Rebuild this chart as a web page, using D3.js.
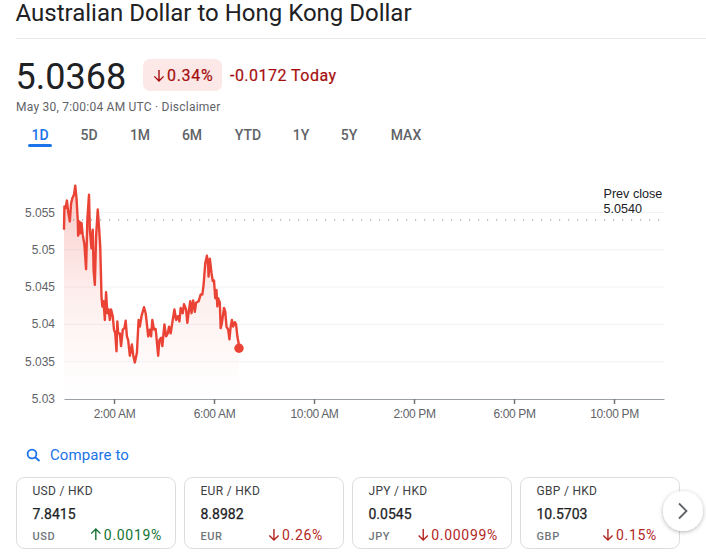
<!DOCTYPE html>
<html><head><meta charset="utf-8">
<script src="https://cdn.jsdelivr.net/npm/d3@7/dist/d3.min.js"></script>
<style>html,body{margin:0;padding:0;background:#fff;overflow:hidden}svg{display:block}</style>
</head><body><svg id="c" width="706" height="559"></svg>
<script>
const minutes=[0,1,4,7,10,14,17,20,24,27,30,33,34,37,39,42,45,49,53,56,60,62,66,69,71,74,77,81,84,87,90,92,95,98,101,104,107,110,113,117,120,123,126,128,130,134,137,141,145,148,151,154,158,163,166,170,175,179,182,186,192,196,199,202,206,209,212,216,220,226,229,233,236,241,245,249,252,256,261,265,269,273,277,280,285,288,293,296,299,303,306,310,314,317,323,328,332,335,339,343,346,347,350,354,357,360,363,366,368,370,374,376,379,384,387,390,394,397,400,403,406,410,413,416,419,420];
const rates=[5.0527,5.0558,5.0556,5.0566,5.0551,5.0538,5.0562,5.0569,5.0574,5.0586,5.0569,5.0540,5.0519,5.0538,5.0522,5.0536,5.0520,5.0507,5.0474,5.0540,5.0574,5.0527,5.0502,5.0527,5.0473,5.0453,5.0518,5.0554,5.0531,5.0504,5.0437,5.0424,5.0431,5.0406,5.0443,5.0415,5.0420,5.0406,5.0420,5.0411,5.0393,5.0388,5.0364,5.0404,5.0388,5.0388,5.0371,5.0393,5.0395,5.0405,5.0384,5.0379,5.0358,5.0373,5.0359,5.0349,5.0362,5.0406,5.0397,5.0411,5.0423,5.0415,5.0400,5.0384,5.0393,5.0384,5.0406,5.0393,5.0394,5.0358,5.0379,5.0382,5.0371,5.0400,5.0384,5.0388,5.0397,5.0388,5.0406,5.0420,5.0406,5.0411,5.0404,5.0422,5.0415,5.0427,5.0420,5.0402,5.0415,5.0431,5.0415,5.0432,5.0417,5.0429,5.0431,5.0440,5.0440,5.0453,5.0482,5.0492,5.0478,5.0464,5.0488,5.0469,5.0458,5.0459,5.0435,5.0446,5.0424,5.0435,5.0429,5.0395,5.0402,5.0422,5.0417,5.0397,5.0393,5.0380,5.0397,5.0406,5.0397,5.0403,5.0400,5.0384,5.0375,5.0368];
const yTicks=[5.03,5.035,5.04,5.045,5.05,5.055];
const yLabels=["5.03","5.035","5.04","5.045","5.05","5.055"];
const xTicks=[120,360,600,840,1080,1320];
const xLabels=["2:00 AM","6:00 AM","10:00 AM","2:00 PM","6:00 PM","10:00 PM"];
const prevClose=5.054;
const ranges=["1D","5D","1M","6M","YTD","1Y","5Y","MAX"];
const pairNames=["USD / HKD","EUR / HKD","JPY / HKD","GBP / HKD"];
const pairRates=["7.8415","8.8982","0.0545","10.5703"];
const pairCodes=["USD","EUR","JPY","GBP"];
const pairChanges=["0.0019%","0.26%","0.00099%","0.15%"];
const pairUp=[true,false,false,false];

const svg=d3.select("#c");
const UI="Roboto, sans-serif", AR="'Liberation Sans', Arial, sans-serif";
const DARK="#202124",GREY="#5f6368",RED="#a50e0e",GREEN="#137333",BLUE="#1a73e8",LINE="#ea4335";
function T(x,y,s,size,fill,o={}){return svg.append("text").attr("x",x).attr("y",y).text(s)
  .attr("font-family",o.font||UI).attr("font-size",size).attr("fill",fill)
  .attr("font-weight",o.weight||400).attr("text-anchor",o.anchor||"start")
  .attr("letter-spacing",o.ls||null);}
function arrow(x,y,up,color,h=11){
  const s=up?-1:1,g=svg.append("path");
  g.attr("d",`M${x},${y-s*h/2}L${x},${y+s*h/2}M${x-h*0.42},${y+s*h*0.08}L${x},${y+s*h/2}L${x+h*0.42},${y+s*h*0.08}`)
   .attr("fill","none").attr("stroke",color).attr("stroke-width",1.4);
}
const defs=svg.append("defs");
const grad=defs.append("linearGradient").attr("id","g").attr("x1",0).attr("x2",0).attr("y1",0).attr("y2",1);
[[0,.27],[.5,.09],[.85,.02],[1,0]].forEach(s=>grad.append("stop").attr("offset",s[0]).attr("stop-color","#ea4335").attr("stop-opacity",s[1]));
const sh=defs.append("filter").attr("id","s").attr("x","-40%").attr("y","-40%").attr("width","180%").attr("height","180%");
sh.append("feDropShadow").attr("dx",0).attr("dy",1).attr("stdDeviation",2).attr("flood-color","#000").attr("flood-opacity",.3);

// header
T(15.5,21,"Australian Dollar to Hong Kong Dollar",24,DARK);
svg.append("line").attr("x1",16).attr("x2",706).attr("y1",38.5).attr("y2",38.5).attr("stroke","#e8eaed");
T(15.5,89,"5.0368",36,DARK);
svg.append("rect").attr("x",143).attr("y",59).attr("width",79).attr("height",32).attr("rx",7).attr("fill","#fce8e6");
arrow(159,75.5,false,RED,11);
T(167,81,"0.34%",16,RED,{ls:".7px"}).attr("stroke",RED).attr("stroke-width",.2);
T(230,81,"-0.0172 Today",16,RED,{ls:".48px"}).attr("stroke",RED).attr("stroke-width",.2);
T(16,111,"May 30, 7:00:04 AM UTC · Disclaimer",12,GREY,{ls:".23px"});
const rx=[40,89,140,192,248,301,349,406];
ranges.forEach((r,i)=>T(rx[i],140,r,14,i==0?BLUE:GREY,{anchor:"middle",weight:500}));
svg.append("rect").attr("x",28).attr("y",144).attr("width",24).attr("height",3).attr("rx",1.5).attr("fill",BLUE);

// chart
const x=d3.scaleLinear().domain([0,1440]).range([64,664]);
const y=d3.scaleLinear().domain([5.03,5.055]).range([399,212.5]);
const pts=minutes.map((m,i)=>[m,rates[i]]);
svg.append("g").selectAll("line").data(yTicks.slice(1)).join("line")
  .attr("x1",64).attr("x2",664).attr("y1",d=>y(d)).attr("y2",d=>y(d)).attr("stroke","#f1f3f4");
svg.append("path").datum(pts).attr("fill","url(#g)")
  .attr("d",d3.area().x(d=>x(d[0])).y0(y(5.03)).y1(d=>y(d[1])));
svg.append("line").attr("x1",64).attr("x2",664).attr("y1",y(prevClose)).attr("y2",y(prevClose))
  .attr("stroke","#9aa0a6").attr("stroke-width",1.2).attr("stroke-dasharray","1.2 7.8");
svg.append("path").datum(pts).attr("fill","none").attr("stroke",LINE).attr("stroke-width",2.4).attr("stroke-linejoin","round")
  .attr("d",d3.line().x(d=>x(d[0])).y(d=>y(d[1])));
const last=pts[pts.length-1];
svg.append("circle").attr("cx",x(last[0])).attr("cy",y(last[1])).attr("r",4.7).attr("fill",LINE);
yTicks.forEach((v,i)=>T(55,y(v)+4,yLabels[i],12,GREY,{font:AR,anchor:"end"}));
const ax=svg.append("g").attr("transform",`translate(0,${y(5.03)})`)
  .call(d3.axisBottom(x).tickValues(xTicks).tickFormat((d,i)=>xLabels[i]).tickSize(5).tickSizeOuter(0));
ax.select(".domain").attr("stroke","#9aa0a6").attr("stroke-width",1);
ax.selectAll(".tick line").attr("stroke","#70757a").attr("stroke-width",1.5);
ax.selectAll(".tick text").attr("fill",GREY).attr("font-family",AR).attr("font-size",12).attr("y",10).attr("dy","0.71em").attr("letter-spacing","-0.35px");
T(603.5,198,"Prev close",12.6,DARK,{font:AR});
T(603.5,213,"5.0540",12.6,DARK,{font:AR});

// compare
svg.append("circle").attr("cx",32).attr("cy",454).attr("r",4.4).attr("fill","none").attr("stroke",BLUE).attr("stroke-width",1.8);
svg.append("line").attr("x1",35.2).attr("y1",457.2).attr("x2",39.5).attr("y2",461).attr("stroke",BLUE).attr("stroke-width",1.9);
T(50,460,"Compare to",15,BLUE,{ls:".1px"});

// cards
const cx=[16.5,184.5,352.5,520.5];
const changeEnd=[145.5,138.5,145.5,136.5];
pairNames.forEach((n,i)=>{
  svg.append("rect").attr("x",cx[i]).attr("y",477.5).attr("width",159).attr("height",71).attr("rx",8).attr("fill","#fff").attr("stroke","#dadce0");
  T(cx[i]+16,495,n,12,"#3c4043",{ls:".3px"});
  T(cx[i]+16,519,pairRates[i],14,DARK).attr("stroke",DARK).attr("stroke-width",.25);
  T(cx[i]+16,539.5,pairCodes[i],11,"#70757a",{weight:500,ls:".6px"});
  const c=pairUp[i]?GREEN:"#b3261e";
  const t=T(cx[i]+changeEnd[i],540,pairChanges[i],14,c,{anchor:"end",ls:".7px"});
  const w=t.node().getComputedTextLength();
  arrow(cx[i]+changeEnd[i]-w-8,534.5,pairUp[i],c,11);
});
svg.append("circle").attr("cx",683).attr("cy",511).attr("r",20).attr("fill","#fff").attr("filter","url(#s)");
svg.append("path").attr("d","M679,503.5L686.5,511L679,518.5").attr("fill","none").attr("stroke","#5f6368").attr("stroke-width",1.8);
</script></body></html>
